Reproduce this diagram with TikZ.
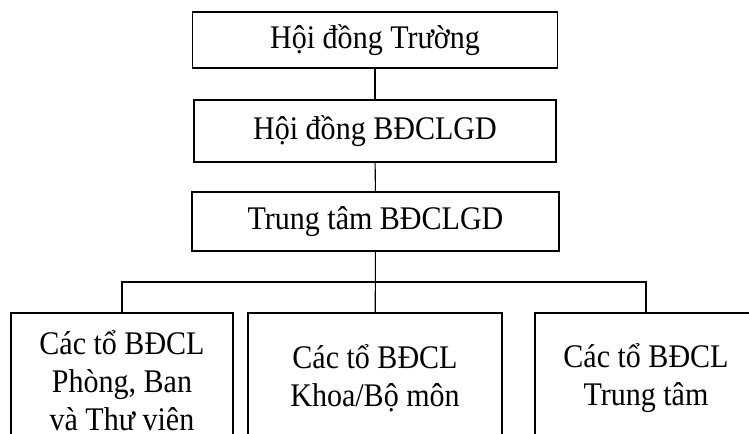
\documentclass[tikz,border=0pt]{standalone}
\usepackage{fontspec}
\setmainfont[FakeStretch=0.91]{Liberation Serif}
\usetikzlibrary{positioning}
\tikzset{
	box/.style={draw,rectangle,align=center,inner sep=0pt,line width=0.8pt,
		font=\fontsize{24.75}{28.5}\selectfont},
	topbox/.style={box,minimum width=273.75pt},
	tobox/.style={box,minimum height=97.5pt},
	link/.style={draw,line width=0.8pt}
}
\begin{document}
\begin{tikzpicture}[x=0.75pt,y=-0.75pt]
	\clip (0,0) rectangle (749,433);
	\node[topbox,minimum height=42pt] (hdt) at (375,40) {Hội đồng Trường};
	\node[topbox,minimum height=46.5pt,minimum width=271.5pt] (hdbd) at (375,131) {Hội đồng BĐCLGD};
	\node[topbox,minimum height=44.25pt,minimum width=275.25pt] (ttbd) at (375.5,221.5) {Trung tâm BĐCLGD};
	\node[tobox,minimum width=166.5pt,minimum height=102pt] (tophong) at (122,381) {Các tổ BĐCL\\Phòng, Ban\\và Thư viên};
	\node[tobox,minimum width=190.5pt] (tokhoa) at (375,378) {Các tổ BĐCL\\Khoa/Bộ môn};
	\node[tobox,minimum width=166.5pt] (tott) at (646,378) {Các tổ BĐCL\\Trung tâm};
	\node[coordinate] (nga) at (375,282) {};

	\draw[link] (hdt) -- (hdbd);
	\draw[link] (hdbd) -- (ttbd);
	\draw[link] (ttbd) -- (tokhoa);
	\draw[link] (tophong.north) |- (nga) -| (tott.north);
\end{tikzpicture}
\end{document}
